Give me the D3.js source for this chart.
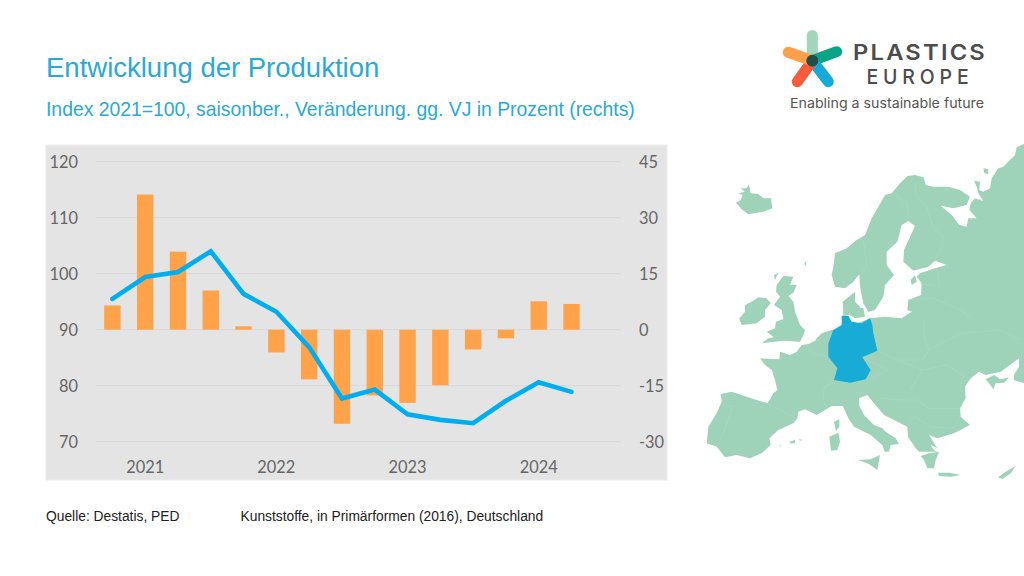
<!DOCTYPE html>
<html><head><meta charset="utf-8">
<script src="https://cdn.jsdelivr.net/npm/d3@7"></script>
<style>html,body{margin:0;padding:0;background:#fff;overflow:hidden}svg{display:block}</style>
</head><body><svg id="c" width="1024" height="576"></svg>
<script>
const categories=["","2021","","","","2022","","","","2023","","","","2024","",""];
const quarters=d3.range(16);
const changeValues=[6.5,36.2,20.9,10.5,0.9,-6.1,-13.3,-25.2,-17.6,-19.6,-14.9,-5.3,-2.3,7.6,6.9];
const indexValues=[95.5,99.4,100.3,104,96.4,93.2,86.9,77.7,79.3,74.9,73.9,73.3,77.3,80.6,78.9];
const leftTicks=[70,80,90,100,110,120];
const rightTicks=[-30,-15,0,15,30,45];
const titleText="Entwicklung der Produktion";
const subtitleText="Index 2021=100, saisonber., Veränderung. gg. VJ in Prozent (rechts)";

// Decorative map outlines, traced in local picture crops
const tr=(ox,oy,pts)=>pts.map(([a,b])=>[ox+a/3,oy+b/3]);
const mainland=[
 ...tr(820,140,[[612,12],[590,22],[585,45],[570,60],[550,80],[535,85],[525,100],[515,115],[510,145],[490,155],[478,150],[480,125],[462,122],[470,140],[475,160],[490,183],[465,175],[452,190],[448,210],[470,235],[445,235],[440,260],[418,255],[395,225],[362,197],[400,205],[440,195],[450,170],[420,150],[385,140],[340,140],[318,135],[310,112],[285,105],[262,108],[240,130],[215,160],[195,165],[175,200],[155,235],[135,285],[110,300],[80,325],[45,340],[40,380],[35,405],[45,440],[75,445],[100,425],[118,403],[120,440],[130,490],[145,515],[165,510],[190,470],[195,435],[222,405],[200,375],[200,335],[232,305],[245,255],[265,243],[285,258],[275,280],[252,330],[250,365],[280,392],[325,380],[345,362],[380,375],[345,385],[300,400],[290,410],[305,430],[303,465],[265,480],[262,510],[275,515],[245,535],[195,530],[150,535]]),
 ...tr(700,170,[[420,480],[395,480],[365,490],[345,510]]),
 ...tr(700,330,[[350,30],[325,42],[305,45],[290,65],[270,75],[240,65],[238,88],[180,85],[195,105],[215,120],[225,150],[232,180],[220,190],[203,220],[160,207],[95,185],[62,192],[65,215],[50,250],[25,290],[20,340],[50,350],[75,382],[110,375],[150,385],[185,370],[212,345],[208,325],[235,300],[280,280],[292,265],[295,245],[315,238],[350,255],[395,228],[428,228],[445,265]]),
 ...tr(854,320,[[0,320],[50,345],[85,375],[92,395],[105,395],[110,375],[135,372],[125,355],[95,335],[85,325],[60,315],[30,285],[15,255],[15,235],[40,225],[60,250],[90,285],[130,305],[160,320],[162,350],[185,385],[195,395],[230,395],[250,395],[265,405],[240,390],[230,375],[250,385],[225,345],[250,355],[300,340],[348,315],[320,290],[318,265],[335,235],[333,200],[350,175],[375,155],[395,165],[440,155],[495,115],[495,140],[480,165],[480,180],[510,190]])
];
const islands=[
 tr(700,170,[[108,98],[122,90],[128,75],[115,70],[135,65],[122,55],[140,55],[147,43],[152,70],[175,72],[190,85],[213,85],[217,115],[190,125],[145,133],[125,118]]),
 tr(700,170,[[118,445],[135,425],[135,405],[155,395],[175,382],[200,385],[212,400],[195,420],[195,440],[170,460],[125,465]]),
 tr(700,170,[[230,345],[250,318],[280,320],[270,345],[290,345],[280,368],[265,378],[280,395],[285,425],[300,465],[315,480],[310,495],[300,515],[250,512],[185,520],[205,505],[222,502],[200,485],[225,475],[228,455],[250,447],[245,420],[222,405],[240,380],[228,365]]),
 tr(700,170,[[222,315],[235,308],[225,330]]),
 tr(700,170,[[313,280],[318,272],[318,288]]),
 tr(700,170,[[428,395],[465,365],[465,395],[480,410],[470,425],[445,435],[430,437]]),
 tr(700,170,[[450,425],[470,410],[490,415],[495,440],[465,445],[450,435]]),
 tr(820,140,[[272,420],[285,405],[290,425],[275,435]]),
 tr(820,140,[[490,85],[505,88],[505,102],[493,100]]),
 tr(854,320,[[200,408],[225,400],[255,395],[245,420],[240,445],[220,445],[210,420]]),
 tr(854,320,[[395,178],[420,165],[440,178],[465,172],[450,188],[425,190],[418,208],[405,190]]),
 tr(854,320,[[252,458],[285,458],[320,465],[290,470],[255,468]]),
 tr(854,320,[[432,472],[455,455],[485,438],[470,460],[445,477]]),
 tr(854,320,[[12,420],[50,418],[78,405],[70,450],[45,432]]),
 tr(700,330,[[402,275],[418,268],[418,290],[408,303]]),
 tr(700,330,[[388,320],[415,308],[420,335],[412,360],[393,362]]),
 tr(700,330,[[268,335],[285,330],[285,340],[272,340]]),
 tr(700,330,[[238,347],[245,345],[240,350]]),
 tr(700,330,[[297,327],[308,330],[300,332]])
];
const landCorner=[[1024,384],[1024,144]];
const germany=[
 ...tr(700,170,[[400,480],[425,465],[425,437],[445,437],[455,455],[485,460],[510,445]]),
 ...tr(854,320,[[50,0],[55,15],[58,40],[70,92],[25,112],[50,150],[35,178]]),
 ...tr(700,330,[[450,158],[402,150],[412,115],[385,80],[385,40]])
];
const mapBorders=[
 tr(820,140,[[285,130],[290,170],[320,200],[340,260],[375,300],[345,362]]),
 tr(820,140,[[225,165],[260,190],[265,235]]),
 tr(820,140,[[130,300],[140,380],[125,400]]),
 tr(820,140,[[300,430],[360,440],[350,385]]),
 tr(820,140,[[262,480],[340,475],[420,510],[450,530]]),
 tr(700,330,[[203,220],[285,265]]),
 tr(700,330,[[100,230],[60,330]]),
 tr(700,330,[[62,225],[100,230]]),
 tr(700,330,[[360,180],[410,150]]),
 tr(700,330,[[370,180],[370,210],[380,235]]),
 tr(700,330,[[305,45],[340,70],[385,80]]),
 tr(854,320,[[70,92],[130,120],[205,120],[225,90],[210,50],[210,0]]),
 tr(854,320,[[225,90],[320,40],[440,30],[500,60]]),
 tr(854,320,[[25,112],[100,150],[40,180]]),
 tr(854,320,[[205,150],[280,135],[330,170],[350,175]]),
 tr(854,320,[[170,210],[205,150],[130,120]]),
 tr(854,320,[[80,235],[140,240],[190,240],[225,265],[320,265]]),
 tr(854,320,[[160,320],[180,290],[230,320],[300,325],[320,290]])
];
const logoArms=[
 {end:[812.3,35.5],c:"#a3d5bd"},{end:[836.7,51.7],c:"#0aa487"},{end:[828.3,81.7],c:"#16a9dc"},
 {end:[797.3,81.7],c:"#f85c3c"},{end:[788.3,52.3],c:"#ff9f4c"}];

const svg=d3.select("#c");
svg.append("rect").attr("width",1024).attr("height",576).attr("fill","#fff");

svg.append("text").attr("x",46).attr("y",77).attr("font-family","'Liberation Sans'").attr("font-size",27.5).attr("fill","#2aaad6").text(titleText);
svg.append("text").attr("x",46).attr("y",116).attr("font-family","'Liberation Sans'").attr("font-size",19.35).attr("fill","#2aaad6").text(subtitleText);

svg.append("rect").attr("x",46).attr("y",145).attr("width",621).attr("height",335).attr("fill","#e4e4e4").attr("stroke","#ebebeb");

const x=d3.scaleBand().domain(quarters).range([96,620.7]);
const yL=d3.scaleLinear().domain([70,120]).range([441.7,161.7]);
const yR=d3.scaleLinear().domain([-30,45]).range([441.7,161.7]);
const barW=x.bandwidth()*0.5;
const cx=i=>x(i)+x.bandwidth()/2;
const label="'Lato','Open Sans',sans-serif";

svg.append("g").selectAll("line").data(leftTicks).join("line")
 .attr("x1",96).attr("x2",620.7).attr("y1",d=>yL(d)).attr("y2",d=>yL(d)).attr("stroke","#dadada").attr("stroke-width",1.2);
svg.append("g").selectAll("rect").data(changeValues).join("rect")
 .attr("x",(d,i)=>cx(i)-barW/2).attr("width",barW)
 .attr("y",d=>Math.min(yR(d),yR(0))).attr("height",d=>Math.abs(yR(d)-yR(0))).attr("fill","#ffa24a");
svg.append("path").datum(indexValues)
 .attr("d",d3.line().x((d,i)=>cx(i)).y(d=>yL(d)))
 .attr("fill","none").attr("stroke","#00aeef").attr("stroke-width",4.6).attr("stroke-linejoin","miter").attr("stroke-linecap","round");

const axisText=s=>s.attr("font-family",label).attr("font-size",16.4).attr("fill","#666");
svg.append("g").selectAll("text").data(leftTicks).join("text").call(axisText)
 .attr("x",78).attr("text-anchor","end").attr("y",d=>yL(d)+6).text(d=>d);
svg.append("g").selectAll("text").data(rightTicks).join("text").call(axisText)
 .attr("x",639).attr("text-anchor","start").attr("y",d=>yR(d)+6).text(d=>d);
svg.append("g").selectAll("text").data(categories.map((c,i)=>({c,i})).filter(d=>d.c)).join("text").call(axisText)
 .attr("x",d=>cx(d.i)).attr("text-anchor","middle").attr("y",473).text(d=>d.c);

const foot=s=>s.attr("font-family","'Liberation Sans'").attr("font-size",13.8).attr("fill","#222");
svg.append("text").call(foot).attr("x",46).attr("y",521).text("Quelle: Destatis, PED");
svg.append("text").call(foot).attr("x",240.5).attr("y",521).text("Kunststoffe, in Primärformen (2016), Deutschland");

// map
const closed=d3.line().curve(d3.curveLinearClosed);
const open=d3.line();
const map=svg.append("g");
map.selectAll("path.l").data([[...mainland,...landCorner],...islands]).join("path").attr("class","l").attr("d",closed).attr("fill","#9fd3b9");
map.selectAll("path.b").data(mapBorders).join("path").attr("class","b").attr("d",open).attr("fill","none").attr("stroke","#a9d8c1").attr("stroke-width",.6);
map.append("path").attr("d",closed(germany)).attr("fill","#17abd6");

// logo
const logoC=[812.3,60.7];
const logo=svg.append("g");
logo.selectAll("line").data(logoArms).join("line")
 .attr("x1",logoC[0]).attr("y1",logoC[1]).attr("x2",d=>d.end[0]).attr("y2",d=>d.end[1])
 .attr("stroke",d=>d.c).attr("stroke-width",11).attr("stroke-linecap","round");
logo.append("circle").attr("cx",logoC[0]).attr("cy",logoC[1]).attr("r",6).attr("fill","#1f4f4a");
const lt=(t,xp,yp,size,w,ls,len,col)=>svg.append("text").attr("x",xp).attr("y",yp).attr("font-family","Inter,'Open Sans'").attr("font-size",size).attr("font-weight",w).attr("letter-spacing",ls).attr("fill",col).attr("textLength",len).attr("lengthAdjust","spacingAndGlyphs").text(t);
lt("PLASTICS",853,60,21.5,600,2,134,"#4d4d4d");
lt("EUROPE",866.5,83.5,20,500,5,107,"#4d4d4d");
lt("Enabling a sustainable future",790,108,13.5,400,0,194,"#555");
</script></body></html>
